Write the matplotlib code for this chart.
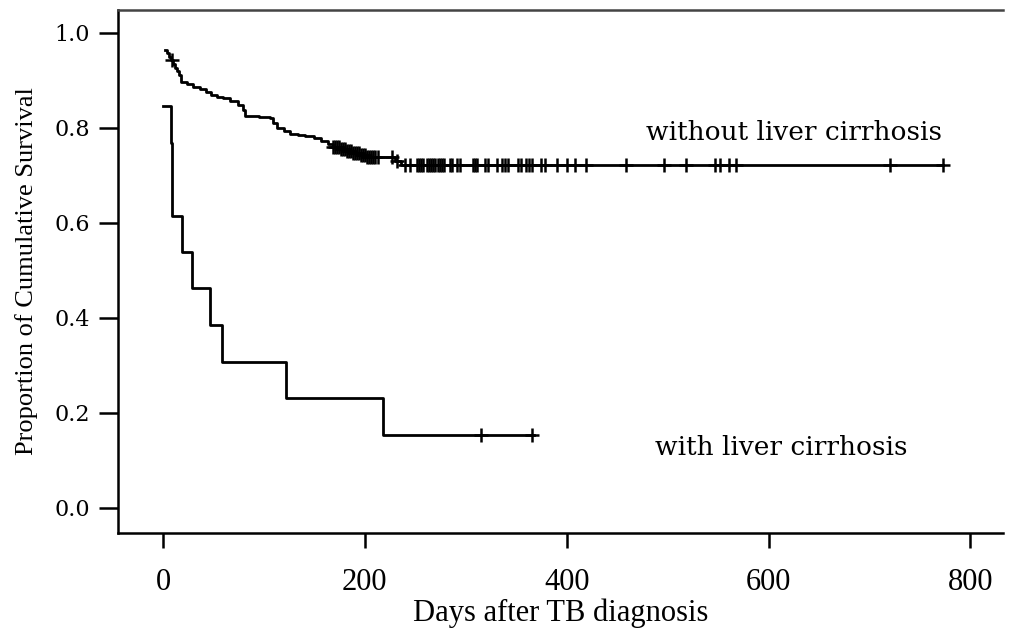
import numpy as np
import matplotlib
matplotlib.use('Agg')
import matplotlib.pyplot as plt

# without liver cirrhosis: event days and survival after each event
no_lc_days = [2, 4, 6, 8, 10, 12, 14, 16, 18, 24, 30, 37, 43, 48, 54, 59, 66, 74, 79, 81,
              95, 106, 109, 113, 120, 126, 134, 141, 150, 157, 163, 168, 175, 181, 188,
              195, 202, 230, 236]
no_lc_surv = [0.964, 0.957, 0.950, 0.943, 0.935, 0.927, 0.919, 0.911, 0.897, 0.892,
              0.887, 0.882, 0.876, 0.869, 0.866, 0.863, 0.856, 0.848, 0.838, 0.825,
              0.823, 0.821, 0.811, 0.800, 0.793, 0.787, 0.785, 0.783, 0.778, 0.773,
              0.767, 0.760, 0.756, 0.751, 0.747, 0.743, 0.739, 0.730, 0.722]
no_lc_last = 773
no_lc_censor = [9, 168, 170, 172, 174, 176, 178, 180, 182, 184, 186, 188, 190, 192, 194,
                196, 198, 200, 202, 204, 206, 208, 210, 213, 227, 232, 240, 245, 252, 254,
                256, 258, 262, 264, 266, 268, 270, 272, 274, 276, 278, 284, 286, 291, 294,
                307, 309, 311, 319, 322, 331, 336, 339, 342, 352, 355, 360, 363, 366, 375,
                378, 390, 400, 408, 419, 459, 496, 518, 547, 552, 561, 568, 720, 773]

# with liver cirrhosis
lc_days = [0, 8, 9, 19, 29, 47, 58, 122, 218]
lc_surv = [0.846, 0.769, 0.615, 0.538, 0.462, 0.385, 0.308, 0.231, 0.154]
lc_last = 368
lc_censor = [315, 366]

x_ticks = [0, 200, 400, 600, 800]
y_ticks = [0.0, 0.2, 0.4, 0.6, 0.8, 1.0]


def surv_at(days, surv, t):
    i = np.searchsorted(days, t, side='right') - 1
    return surv[max(i, 0)]


def draw_curve(ax, days, surv, last, censor):
    xs = list(days) + [last]
    ys = list(surv) + [surv[-1]]
    ax.step(xs, ys, where='post', color='black', lw=2.0)
    cy = [surv_at(days, surv, t) for t in censor]
    ax.plot(censor, cy, ls='none', marker='+', ms=10, mew=1.8, color='black')


def main():
    fig = plt.figure(figsize=(10.1, 6.28), dpi=100)
    ax = fig.add_axes([0.1168, 0.1513, 0.876, 0.8327])

    draw_curve(ax, no_lc_days, no_lc_surv, no_lc_last, no_lc_censor)
    draw_curve(ax, lc_days, lc_surv, lc_last, lc_censor)

    ax.set_xlim(-44.6, 832)
    ax.set_ylim(-0.0526, 1.048)

    ax.spines['right'].set_visible(False)
    for s in ['left', 'bottom']:
        ax.spines[s].set_linewidth(1.8)
    ax.spines['top'].set_linewidth(1.8)
    ax.spines['top'].set_color('#444444')

    ax.set_xticks(x_ticks)
    ax.set_xticklabels([str(v) for v in x_ticks], family='Liberation Serif', fontsize=22)
    ax.set_yticks(y_ticks)
    ax.set_yticklabels(['%.1f' % v for v in y_ticks], family='DejaVu Serif', fontsize=16)
    ax.tick_params(axis='x', direction='out', length=11, width=1.8, pad=14)
    ax.tick_params(axis='y', direction='out', length=14, width=1.8, pad=6)

    ax.set_xlabel('Days after TB diagnosis', family='Liberation Serif', fontsize=22,
                  labelpad=1)
    ax.set_ylabel('Proportion of Cumulative Survival', family='Liberation Serif',
                  fontsize=19, labelpad=12)

    ax.text(625, 0.79, 'without liver cirrhosis', family='DejaVu Serif', fontsize=19,
            ha='center', va='center')
    ax.text(613, 0.127, 'with liver cirrhosis', family='DejaVu Serif', fontsize=19,
            ha='center', va='center')

    fig.savefig('out.png', dpi=100)


if __name__ == "__main__":
    main()
